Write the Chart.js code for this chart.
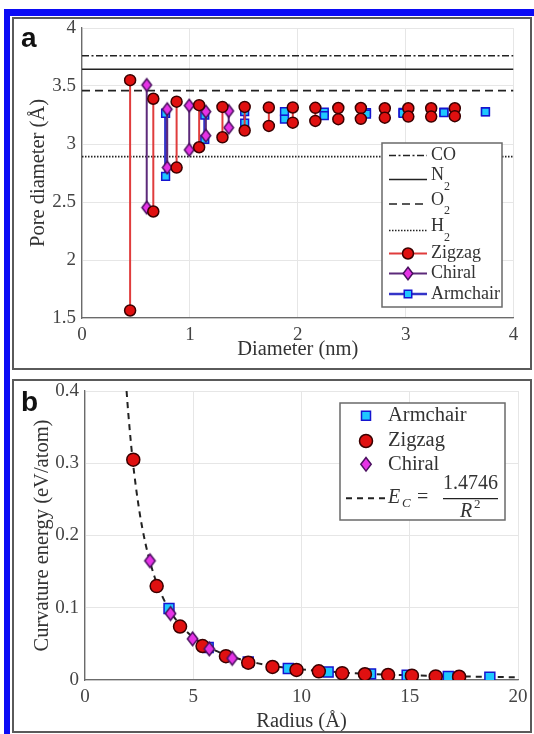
<!DOCTYPE html>
<html>
<head>
<meta charset="utf-8">
<script src="https://cdn.jsdelivr.net/npm/chart.js@4.4.1/dist/chart.umd.min.js"></script>
<style>
  body { margin: 0; background: #fff; }
  #fig { position: relative; width: 534px; height: 734px; overflow: hidden; background: #fff; }
  .blue { position: absolute; background: #0b0bf5; }
  .frame { position: absolute; border: 2px solid #5a5a5a; box-sizing: border-box; }
  canvas { position: absolute; left: 0; }
  .tag { position: absolute; font: bold 28px "Liberation Sans", Arial, sans-serif; color: #111; line-height: 1; }
</style>
</head>
<body>
<div id="fig">
  <div class="blue" style="left:4px;top:9px;width:530px;height:7px"></div>
  <div class="blue" style="left:4px;top:9px;width:6px;height:725px"></div>
  <div class="frame" style="left:12px;top:17px;width:520px;height:353px"></div>
  <div class="frame" style="left:12px;top:379px;width:520px;height:354px"></div>
  <canvas id="chartA" width="534" height="370" style="top:0"></canvas>
  <canvas id="chartB" width="534" height="364" style="top:370px"></canvas>
  <div class="tag" style="left:21px;top:24px">a</div>
  <div class="tag" style="left:21px;top:388px">b</div>
</div>
<script>
// Panel a: pore diameter vs tube diameter (each tube has an upper and lower value)
const zigzagDiam = [0.446, 0.661, 0.877, 1.086, 1.302, 1.508, 1.732, 1.954, 2.163, 2.376, 2.585, 2.807, 3.025, 3.237, 3.456];
const zigzagTop = [3.55, 3.39, 3.365, 3.335, 3.32, 3.32, 3.315, 3.315, 3.312, 3.31, 3.31, 3.308, 3.308, 3.308, 3.308];
const zigzagBottom = [1.565, 2.418, 2.797, 2.972, 3.058, 3.116, 3.156, 3.184, 3.199, 3.214, 3.217, 3.227, 3.236, 3.236, 3.24];

const chiralDiam = [0.60, 0.79, 0.994, 1.148, 1.36];
const chiralTop = [3.509, 3.30, 3.331, 3.279, 3.285];
const chiralBottom = [2.452, 2.797, 2.949, 3.072, 3.141];

const armchairDiam = [0.775, 1.138, 1.508, 1.877, 2.246, 2.637, 2.976, 3.355, 3.74];
const armchairTop = [3.265, 3.25, 3.279, 3.279, 3.275, 3.27, 3.272, 3.274, 3.279];
const armchairBottom = [2.72, 3.04, 3.179, 3.214, 3.245, 3.258, 3.265, 3.27, 3.276];

// kinetic diameters (Å)
const gasNames = ['CO', 'N', 'O', 'H'];
const gasSubs = ['', '2', '2', '2'];
const gasValues = [3.761, 3.644, 3.46, 2.891];

// Panel b: curvature energy vs radius
const armchairR = [3.88, 5.69, 7.54, 9.39, 11.23, 13.19, 14.88, 16.78, 18.7];
const armchairE = [0.099, 0.045, 0.025, 0.016, 0.011, 0.0085, 0.0065, 0.005, 0.004];
const zigzagR = [2.23, 3.31, 4.39, 5.43, 6.51, 7.54, 8.66, 9.77, 10.8, 11.88, 12.93, 14.0, 15.1, 16.2, 17.28];
const zigzagE = [0.305, 0.130, 0.074, 0.047, 0.033, 0.024, 0.018, 0.014, 0.012, 0.0095, 0.008, 0.007, 0.006, 0.005, 0.0045];
const chiralR = [3.0, 3.95, 4.97, 5.74, 6.8];
const chiralE = [0.165, 0.092, 0.057, 0.043, 0.030];
// dashed fit E_C = 1.4746 / R^2
const fitR = [1.92, 2.0, 2.2, 2.5, 2.8, 3.2, 3.6, 4.0, 4.5, 5.0, 5.5, 6.0, 7.0, 8.0, 9.0, 10, 12, 14, 16, 18, 20];
const fitE = [0.400, 0.369, 0.305, 0.236, 0.188, 0.144, 0.114, 0.092, 0.073, 0.059, 0.049, 0.041, 0.030, 0.023, 0.018, 0.0147, 0.0102, 0.0075, 0.0058, 0.0046, 0.0037];

const SERIF = '"Liberation Serif", "Times New Roman", serif';
Chart.defaults.font.family = SERIF;

const ZZ = { fill: '#e01010', edge: '#3a0000', line: '#e03c3c' };
const CH = { fill: '#e633e6', edge: '#4b1060', line: '#5c2a7a' };
const AC = { fill: '#1ec8ff', edge: '#1515d0', line: '#3434c8' };

// pairs of points joined by a vertical line, separated by gaps
function stems(d, top, bot) {
  const pts = [];
  d.forEach((x, i) => { pts.push({ x, y: top[i] }, { x, y: bot[i] }, { x, y: null }); });
  return pts;
}
const xy = (xs, ys) => xs.map((x, i) => ({ x, y: ys[i] }));

// diamond a bit taller than wide, like MATLAB's 'd' marker
function diamondPath(ctx, x, y, hw, hh) {
  ctx.moveTo(x, y - hh); ctx.lineTo(x + hw, y); ctx.lineTo(x, y + hh); ctx.lineTo(x - hw, y); ctx.closePath();
}
function diamondImg(hw, hh, c) {
  const cv = document.createElement('canvas');
  cv.width = Math.ceil(hw * 2 + 4); cv.height = Math.ceil(hh * 2 + 4);
  const g = cv.getContext('2d');
  g.fillStyle = c.fill; g.strokeStyle = c.edge; g.lineWidth = 1.5;
  g.beginPath(); diamondPath(g, cv.width / 2, cv.height / 2, hw, hh); g.fill(); g.stroke();
  return cv;
}

function marker(ctx, style, x, y, c, s) {
  ctx.save();
  ctx.fillStyle = c.fill; ctx.strokeStyle = c.edge; ctx.lineWidth = 1.5;
  ctx.beginPath();
  if (style === 'circle') ctx.arc(x, y, s, 0, Math.PI * 2);
  else if (style === 'diamond') diamondPath(ctx, x, y, s * 0.8, s * 1.05);
  else ctx.rect(x - s * 0.75, y - s * 0.75, s * 1.5, s * 1.5);
  ctx.fill(); ctx.stroke();
  ctx.restore();
}

const gasDash = [[7, 2.5, 2, 2.5], [], [8, 5], [1.5, 1.5]];

const legendA = {
  id: 'legendA',
  afterDraw(chart) {
    const ctx = chart.ctx;
    ctx.save();
    ctx.fillStyle = '#fff'; ctx.strokeStyle = '#6a6a6a'; ctx.lineWidth = 1.5;
    ctx.fillRect(382, 143, 120, 164); ctx.strokeRect(382, 143, 120, 164);
    const rows = [155.5, 179.5, 204, 230.5, 253.5, 273.5, 294];
    ctx.textBaseline = 'middle'; ctx.fillStyle = '#333';
    gasNames.forEach((g, i) => {
      const y = rows[i];
      ctx.strokeStyle = '#222'; ctx.lineWidth = 1.6; ctx.setLineDash(gasDash[i]);
      ctx.beginPath(); ctx.moveTo(389, y); ctx.lineTo(427, y); ctx.stroke();
      ctx.setLineDash([]);
      ctx.font = '18px ' + SERIF;
      const yy = gasSubs[i] ? y - 4 : y;
      ctx.fillText(g, 431, yy);
      if (gasSubs[i]) {
        const w = ctx.measureText(g).width;
        ctx.font = '12px ' + SERIF;
        ctx.fillText(gasSubs[i], 431 + w, y + 7);
      }
    });
    const ser = [['Zigzag', 'circle', ZZ, 2, 5.5], ['Chiral', 'diamond', CH, 2, 6], ['Armchair', 'square', AC, 2.5, 5]];
    ser.forEach((s, k) => {
      const y = rows[4 + k];
      ctx.strokeStyle = s[2].line; ctx.lineWidth = s[3];
      ctx.beginPath(); ctx.moveTo(389, y); ctx.lineTo(427, y); ctx.stroke();
      marker(ctx, s[1], 408, y, s[2], s[4]);
      ctx.fillStyle = '#333'; ctx.font = '18px ' + SERIF;
      ctx.fillText(s[0], 431, y);
    });
    ctx.restore();
  }
};

const legendB = {
  id: 'legendB',
  afterDraw(chart) {
    const ctx = chart.ctx;
    ctx.save();
    ctx.fillStyle = '#fff'; ctx.strokeStyle = '#6a6a6a'; ctx.lineWidth = 1.5;
    ctx.fillRect(340, 33, 165, 117); ctx.strokeRect(340, 33, 165, 117);
    ctx.textBaseline = 'middle';
    const ser = [['Armchair', 'square', AC, 45.7, 6], ['Zigzag', 'circle', ZZ, 71, 6.5], ['Chiral', 'diamond', CH, 94.3, 6.5]];
    ser.forEach(s => {
      marker(ctx, s[1], 366, s[3], s[2], s[4]);
      ctx.fillStyle = '#333'; ctx.font = '20.5px ' + SERIF;
      ctx.fillText(s[0], 388, s[3]);
    });
    ctx.strokeStyle = '#222'; ctx.lineWidth = 2; ctx.setLineDash([6, 5]);
    ctx.beginPath(); ctx.moveTo(346, 128.3); ctx.lineTo(385, 128.3); ctx.stroke();
    ctx.setLineDash([]);
    ctx.fillStyle = '#333';
    ctx.font = 'italic 20px ' + SERIF; ctx.fillText('E', 388, 128);
    ctx.font = 'italic 13px ' + SERIF; ctx.fillText('C', 402, 134);
    ctx.font = '20px ' + SERIF; ctx.fillText('=', 417, 128);
    ctx.textAlign = 'center';
    ctx.fillText('1.4746', 470.5, 114);
    ctx.lineWidth = 1.2; ctx.beginPath(); ctx.moveTo(443, 128.7); ctx.lineTo(498, 128.7); ctx.stroke();
    ctx.textAlign = 'left';
    ctx.font = 'italic 20px ' + SERIF; ctx.fillText('R', 460, 142);
    ctx.font = '13px ' + SERIF; ctx.fillText('2', 474, 135);
    ctx.restore();
  }
};

function axis(min, max, step, title, titlePad, fit) {
  return {
    type: 'linear', min, max,
    ticks: { stepSize: step, padding: 6, color: '#444', font: { size: 19 }, callback: v => String(+v.toFixed(2)) },
    grid: { color: '#e6e6e6', drawTicks: false },
    border: { color: '#6b6b6b', width: 1.3 },
    title: { display: true, text: title, color: '#333', font: { size: 20.5 }, padding: titlePad },
    afterFit: fit
  };
}

const stemSet = (label, d, t, b, c, style, r, lw) => ({
  label, data: stems(d, t, b), showLine: true, borderColor: c.line, borderWidth: lw,
  pointStyle: style, pointRadius: r,
  pointBackgroundColor: c.fill, pointBorderColor: c.edge, pointBorderWidth: 1.5, spanGaps: false
});

const gasSets = gasNames.map((g, i) => ({
  label: g + gasSubs[i], data: [{ x: 0, y: gasValues[i] }, { x: 4, y: gasValues[i] }],
  showLine: true, borderColor: '#222', borderWidth: 1.6, borderDash: gasDash[i], pointRadius: 0
}));

new Chart(document.getElementById('chartA'), {
  type: 'scatter',
  data: {
    datasets: [
      stemSet('Zigzag', zigzagDiam, zigzagTop, zigzagBottom, ZZ, 'circle', 5.5, 2),
      stemSet('Chiral', chiralDiam, chiralTop, chiralBottom, CH, diamondImg(4.8, 6.3, CH), 6, 2),
      stemSet('Armchair', armchairDiam, armchairTop, armchairBottom, AC, 'rect', 5.5, 3),
      ...gasSets
    ]
  },
  options: {
    responsive: false, animation: false,
    layout: { padding: { left: 14, top: 28, right: 20.5, bottom: 0 } },
    plugins: { legend: { display: false }, tooltip: { enabled: false } },
    scales: {
      x: axis(0, 4, 1, 'Diameter (nm)', { top: 0, bottom: 8 }, s => { s.height = 52; }),
      y: axis(1.5, 4, 0.5, 'Pore diameter (Å)', { top: 12.5, bottom: 0 }, s => { s.width = 68; })
    }
  },
  plugins: [legendA]
});

const markSet = (label, xs, ys, c, style, r) => ({
  label, data: xy(xs, ys), pointStyle: style, pointRadius: r,
  pointBackgroundColor: c.fill, pointBorderColor: c.edge, pointBorderWidth: 1.5
});

new Chart(document.getElementById('chartB'), {
  type: 'scatter',
  data: {
    datasets: [
      markSet('Chiral', chiralR, chiralE, CH, diamondImg(5.2, 6.8, CH), 7),
      markSet('Zigzag', zigzagR, zigzagE, ZZ, 'circle', 6.5),
      markSet('Armchair', armchairR, armchairE, AC, 'rect', 7),
      { label: 'fit', data: xy(fitR, fitE), showLine: true, pointRadius: 0, borderColor: '#222',
        borderWidth: 2, borderDash: [6, 5], cubicInterpolationMode: 'monotone' }
    ]
  },
  options: {
    responsive: false, animation: false,
    layout: { padding: { left: 14, top: 21, right: 16, bottom: 0 } },
    plugins: { legend: { display: false }, tooltip: { enabled: false } },
    scales: {
      x: axis(0, 20, 5, 'Radius (Å)', { top: 0, bottom: 0 }, s => { s.height = 54; }),
      y: axis(0, 0.4, 0.1, 'Curvature energy (eV/atom)', { top: 16.5, bottom: 0 }, s => { s.width = 71; })
    }
  },
  plugins: [legendB]
});
</script>
</body>
</html>
